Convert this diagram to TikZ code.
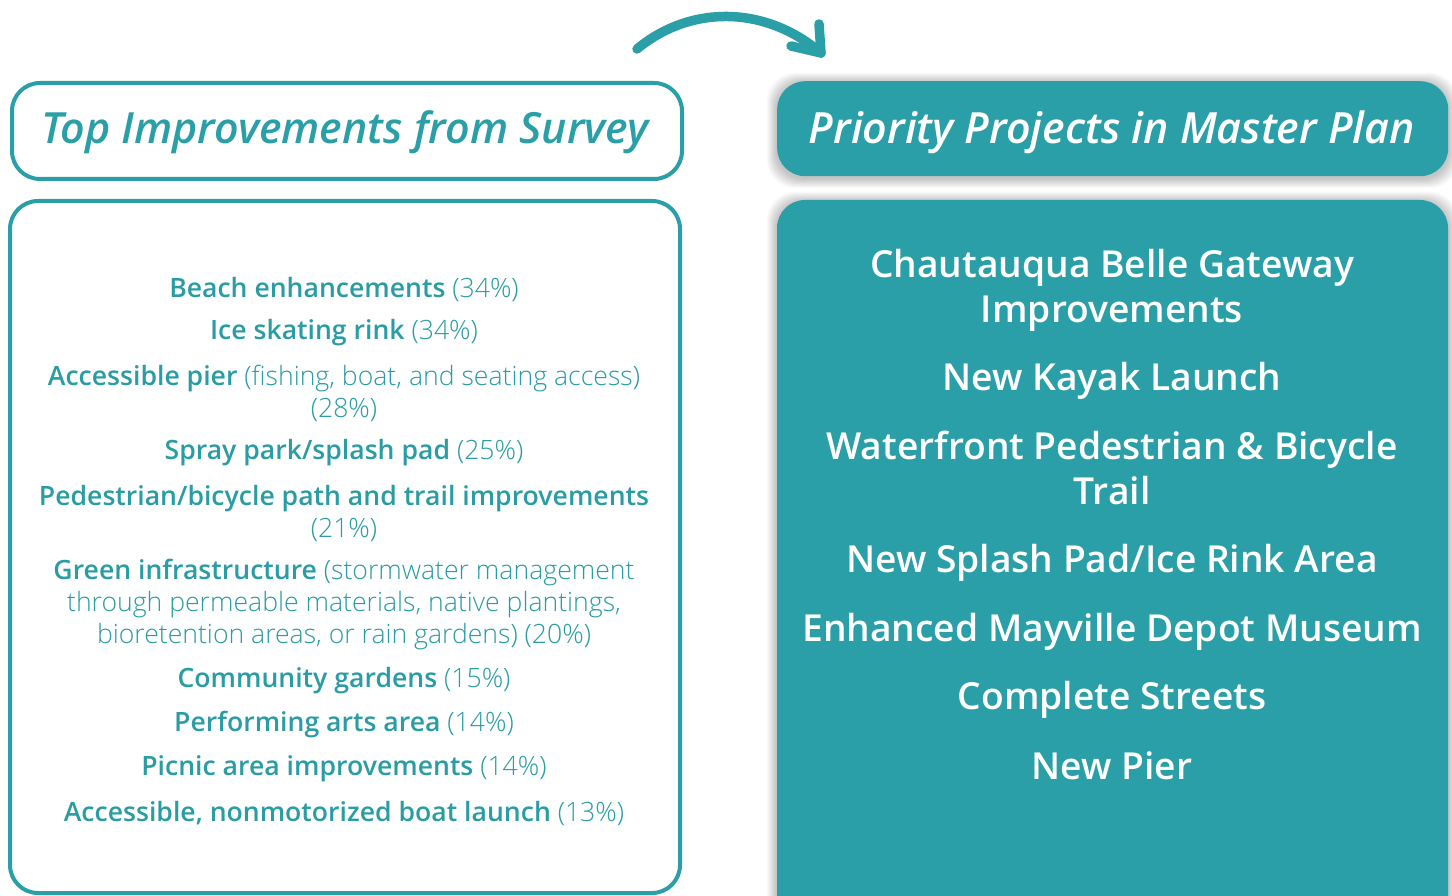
\documentclass[tikz,border=0pt]{standalone}
\usepackage{fontspec}
\def\mybold{Open Sans Bold}
\def\myital{Open Sans Italic}
\def\myreg{Open Sans}
\IfFontExistsTF{Open Sans Semibold}{\def\mybold{Open Sans Semibold}}{}
\IfFontExistsTF{Open Sans SemiBold}{\def\mybold{Open Sans SemiBold}}{}
\IfFontExistsTF{Open Sans Semibold Italic}{\def\myital{Open Sans Semibold Italic}}{}
\IfFontExistsTF{Open Sans SemiBold Italic}{\def\myital{Open Sans SemiBold Italic}}{}
\IfFontExistsTF{Open Sans Light}{\def\myreg{Open Sans Light}}{}
\setmainfont{\myreg}[BoldFont={\mybold},ItalicFont={\myital}]
\usetikzlibrary{arrows.meta}
\definecolor{teal1}{HTML}{2B9FA8}
\definecolor{tealtxt}{HTML}{2A9CA4}
\tikzset{
  outbox/.style={draw=teal1, line width=4pt, rounded corners=28pt, fill=white},
  fillbox/.style={fill=teal1, rounded corners=28pt},
  titletxt/.style={font=\fontsize{43}{50}\selectfont\itshape, anchor=center},
  lefttxt/.style={font=\fontsize{26.6}{32}\selectfont, text=tealtxt, align=center, anchor=center},
  righttxt/.style={font=\fontsize{37.2}{45}\selectfont\bfseries, text=white, align=center, anchor=center},
  arrowline/.style={draw=teal1, line width=9.5pt, line cap=round, line join=round}
}
\newcommand{\shadowbox}[4]{%
  \foreach \i in {1,...,10}{
    \fill[black, opacity=0.025, rounded corners=28pt] (#1-\i,#2-\i+2) rectangle (#3+\i,#4+\i+2);
  }}
\begin{document}
\begin{tikzpicture}[x=1pt,y=-1pt]
\useasboundingbox (0,0) rectangle (1452,896);
\fill[white] (0,0) rectangle (1452,896);

% left boxes
\node[outbox, minimum width=670pt, minimum height=96pt, anchor=north west] (lt) at (10,81) {};
\node[titletxt, text=teal1] (ltt) at (345,132) {Top Improvements from Survey};
\draw[outbox] (10,201) rectangle (680,893);
\coordinate (lb) at (345,547);

% right boxes with shadow
\begin{scope}
\clip (0,0) rectangle (1452,896);
\shadowbox{777}{81}{1448}{176}
\shadowbox{777}{200}{1448}{920}
\end{scope}
\node[fillbox, minimum width=671pt, minimum height=95pt, anchor=north west] (rt) at (777,81) {};
\node[titletxt, text=white] (rtt) at (1112,132) {Priority Projects in Master Plan};
\fill[fillbox] (777,200) rectangle (1448,940);

% left items
\node[lefttxt] (l1) at (344,289) {\textbf{Beach enhancements} (34\%)};
\node[lefttxt] (l2) at (344,333) {\textbf{Ice skating rink} (34\%)};
\node[lefttxt] (l3) at (344,393) {\textbf{Accessible pier} (fishing, boat, and seating access)\\(28\%)};
\node[lefttxt] (l4) at (344,453) {\textbf{Spray park/splash pad} (25\%)};
\node[lefttxt] (l5) at (344,513) {\textbf{Pedestrian/bicycle path and trail improvements}\\(21\%)};
\node[lefttxt] (l6) at (344,605) {\textbf{Green infrastructure} (stormwater management\\through permeable materials, native plantings,\\bioretention areas, or rain gardens) (20\%)};
\node[lefttxt] (l7) at (344,681) {\textbf{Community gardens} (15\%)};
\node[lefttxt] (l8) at (344,725) {\textbf{Performing arts area} (14\%)};
\node[lefttxt] (l9) at (344,769) {\textbf{Picnic area improvements} (14\%)};
\node[lefttxt] (l10) at (344,813) {\textbf{Accessible, nonmotorized boat launch} (13\%)};

% right items
\node[righttxt] (r1) at (1112,290) {Chautauqua Belle Gateway\\Improvements};
\node[righttxt] (r2) at (1112,381) {New Kayak Launch};
\node[righttxt] (r3) at (1112,468) {Waterfront Pedestrian \& Bicycle\\Trail};
\node[righttxt] (r4) at (1112,563) {New Splash Pad/Ice Rink Area};
\node[righttxt] (r5) at (1112,632) {Enhanced Mayville Depot Museum};
\node[righttxt] (r6) at (1112,700) {Complete Streets};
\node[righttxt] (r7) at (1112,766) {New Pier};

% arrow
\coordinate (as) at (637,49);
\coordinate (ae) at (821,53);
\coordinate (ah1) at (791,46);
\coordinate (ah2) at (819,24);
\draw[arrowline] (as) .. controls (690,5) and (765,5) .. (ae);
\draw[arrowline] (ah1) -- (ae) -- (ah2);
\end{tikzpicture}
\end{document}
